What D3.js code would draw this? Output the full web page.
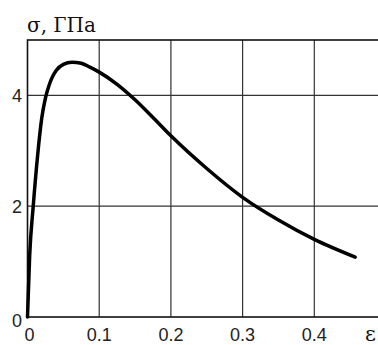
<!DOCTYPE html>
<html>
<head>
<meta charset="utf-8">
<script src="https://cdn.jsdelivr.net/npm/d3@7/dist/d3.min.js"></script>
<style>
  html, body { margin: 0; padding: 0; background: #fff; }
  svg { display: block; }
  .serif { font-family: "DejaVu Serif", "Liberation Serif", serif; }
  .sans { font-family: "Liberation Sans", Arial, sans-serif; }
</style>
</head>
<body>
<script>
// Stress–strain curve: strain ε (dimensionless) vs stress σ (GPa)
const strain = [0, 0.003, 0.008, 0.014, 0.02, 0.025, 0.03, 0.035, 0.04, 0.05, 0.062,
                0.075, 0.087, 0.1, 0.125, 0.15, 0.175, 0.2, 0.25, 0.3, 0.35, 0.4, 0.457];
const stress = [0, 1.1, 2.0, 2.9, 3.6, 3.95, 4.18, 4.34, 4.45, 4.56, 4.6,
                4.58, 4.51, 4.42, 4.2, 3.92, 3.6, 3.27, 2.68, 2.16, 1.75, 1.4, 1.08];
const xTicks = [0, 0.1, 0.2, 0.3, 0.4];
const xTickLabels = ["0", "0.1", "0.2", "0.3", "0.4"];
const yTicks = [0, 2, 4];
const yTickLabels = ["0", "2", "4"];
const yTitle = "σ, ГПа";
const xTitle = "ε";

const W = 378, H = 345;
const svg = d3.select("body").append("svg").attr("width", W).attr("height", H);

const x = d3.scaleLinear().domain([0, 0.5]).range([27.5, 386]);
const y = d3.scaleLinear().domain([0, 5]).range([317, 40]);

// grid lines
const grid = svg.append("g").attr("stroke", "#333").attr("stroke-width", 1.2);
grid.selectAll("line.v").data(xTicks.slice(1)).join("line")
  .attr("x1", d => x(d)).attr("x2", d => x(d))
  .attr("y1", y(0)).attr("y2", y(5));
grid.selectAll("line.h").data(yTicks.slice(1)).join("line")
  .attr("x1", x(0)).attr("x2", x(0.5))
  .attr("y1", d => y(d)).attr("y2", d => y(d));

// frame
svg.append("rect")
  .attr("x", x(0)).attr("y", y(5))
  .attr("width", x(0.5) - x(0)).attr("height", y(0) - y(5))
  .attr("fill", "none").attr("stroke", "#111").attr("stroke-width", 1.6);

// curve
const pts = strain.map((e, i) => [e, stress[i]]);
svg.append("path")
  .datum(pts)
  .attr("fill", "none")
  .attr("stroke", "#000")
  .attr("stroke-width", 3.5)
  .attr("stroke-linejoin", "round")
  .attr("stroke-linecap", "round")
  .attr("d", d3.line().x(d => x(d[0])).y(d => y(d[1])).curve(d3.curveMonotoneX));

// tick labels
svg.append("g").selectAll("text").data(xTicks).join("text")
  .attr("class", "sans")
  .attr("x", d => x(d) + (d === 0 ? 2 : 0))
  .attr("y", 341)
  .attr("text-anchor", "middle")
  .attr("font-size", 18)
  .attr("fill", "#222")
  .text((d, i) => xTickLabels[i]);

svg.append("g").selectAll("text").data(yTicks).join("text")
  .attr("class", "sans")
  .attr("x", 22)
  .attr("y", d => y(d) + (d === 0 ? 9.5 : 7))
  .attr("text-anchor", "end")
  .attr("font-size", 18)
  .attr("fill", "#222")
  .text((d, i) => yTickLabels[i]);

// axis titles
svg.append("text")
  .attr("class", "serif")
  .attr("x", 27).attr("y", 32)
  .attr("font-size", 20)
  .attr("fill", "#111")
  .text(yTitle);

svg.append("text")
  .attr("class", "serif")
  .attr("x", 365).attr("y", 341)
  .attr("font-size", 21)
  .attr("fill", "#111")
  .text(xTitle);
</script>
</body>
</html>
